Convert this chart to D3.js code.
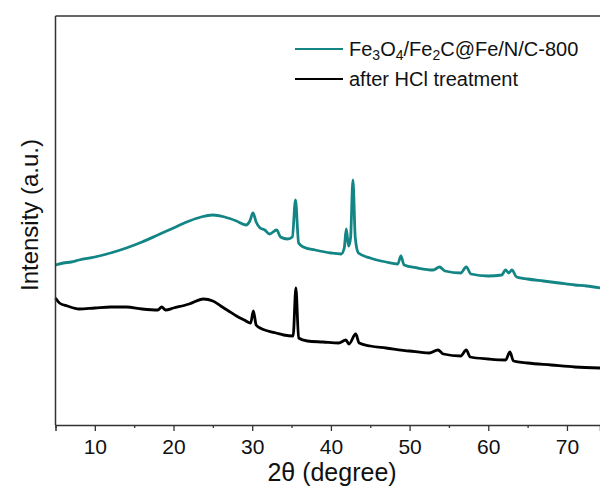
<!DOCTYPE html>
<html><head><meta charset="utf-8">
<script src="https://cdn.jsdelivr.net/npm/d3@7"></script>
<style>body{margin:0;background:#fff}svg{display:block}text{font-family:"Liberation Sans",Arial,sans-serif;fill:#111}</style>
</head><body>
<div id="chart"></div>
<script>
// 2θ (degree) positions and intensities (a.u.)
const tealTheta = [5,6,7,8,10,12,14,16,18,20,22,23.5,25,26.5,28,29.2,29.7,30.1,30.5,31,31.6,32.2,33.1,33.6,34.5,35.1,35.5,35.9,36.5,38,40,41.3,41.7,41.95,42.25,42.5,42.8,43.1,43.5,45,47,48.5,48.9,49.3,51,53,53.8,54.5,56.5,57.2,57.8,60,61.7,62.2,62.6,63.0,63.6,65,67,69,71,72.5,74.3];
const tealIntensity = [160,162,163,165,168,172,177,183,190,197,204,208,210,208,204,200,204,212,203,197,195,191,195,188,186,188,225,182,178,175,172,171,177,196,179,187,245,187,172,167,163,161,169,160,157,155,158,154,152,158,151,149,150,155,152,155,148,146,144,142,140,139,137];
const hclTheta = [5,5.5,6.5,8,10,12,14,16,18,18.5,19,20,22,23.8,25,26,27,28,29,29.8,30.15,30.5,31,32,33,34,35.2,35.55,35.9,37,39,41,41.9,42.3,43.15,43.6,45,47,50,52.5,53.6,54.3,56.5,57.2,57.7,60,62.2,62.75,63.2,65,68,71,74.3];
const hclIntensity = [127,122,119,116,117,118,118,116,115,118,115,117,121,126,124,119,114,109,105,102,114,100,97,94,92,90,89,137,87,84,83,82,85,81,91,82,79,77,74,72,75,71,69,75,68,66,65,73,64,62,60,58,57];
const seriesNames = ["Fe3O4/Fe2C@Fe/N/C-800", "after HCl treatment"];
const xTicks = [10,20,30,40,50,60,70];
const xMinorTicks = [5,15,25,35,45,55,65];

const W = 600, H = 496;
const m = {left:55.5, top:16, bottom:425};
const svg = d3.select("#chart").append("svg").attr("width",W).attr("height",H);

const x = d3.scaleLinear().domain([5, 74.2]).range([m.left, W]);
const y = d3.scaleLinear().domain([0, 409]).range([m.bottom, m.top]);

const line = d3.line().x(d=>x(d[0])).y(d=>y(d[1])).curve(d3.curveMonotoneX);
const teal = "#138585";

svg.append("path").datum(d3.zip(tealTheta, tealIntensity))
  .attr("d", line).attr("fill","none").attr("stroke",teal).attr("stroke-width",2.8).attr("stroke-linejoin","round");
svg.append("path").datum(d3.zip(hclTheta, hclIntensity))
  .attr("d", line).attr("fill","none").attr("stroke","#000").attr("stroke-width",2.8).attr("stroke-linejoin","round");

// frame
svg.append("line").attr("x1",m.left).attr("x2",W).attr("y1",m.top).attr("y2",m.top).attr("stroke","#333").attr("stroke-width",1.5);
svg.append("line").attr("x1",m.left).attr("x2",m.left).attr("y1",m.top).attr("y2",m.bottom).attr("stroke","#333").attr("stroke-width",1.5);

// x axis
const xAxis = d3.axisBottom(x).tickValues(xTicks).tickSize(6).tickPadding(8).tickFormat(d3.format("d"));
const gx = svg.append("g").attr("transform",`translate(0,${m.bottom})`).call(xAxis);
gx.select(".domain").attr("stroke","#333").attr("stroke-width",1.5);
gx.selectAll(".tick line").attr("stroke","#333").attr("stroke-width",1.3);
gx.selectAll(".tick text").attr("font-size",21).attr("font-family","Liberation Sans, Arial, sans-serif").attr("fill","#111");
const xMinor = d3.axisBottom(x).tickValues(xMinorTicks).tickSize(3).tickFormat("");
const gm = svg.append("g").attr("transform",`translate(0,${m.bottom})`).call(xMinor);
gm.select(".domain").remove();
gm.selectAll(".tick line").attr("stroke","#333").attr("stroke-width",1.3);

// titles
svg.append("text").attr("x",332).attr("y",481).attr("text-anchor","middle").attr("font-size",25).text("2θ (degree)");
svg.append("text").attr("transform","translate(38,215) rotate(-90)").attr("text-anchor","middle").attr("font-size",24).text("Intensity (a.u.)");

// legend
const lg = svg.append("g");
lg.append("line").attr("x1",295).attr("x2",343).attr("y1",49).attr("y2",49).attr("stroke",teal).attr("stroke-width",2);
lg.append("line").attr("x1",295).attr("x2",343).attr("y1",79).attr("y2",79).attr("stroke","#000").attr("stroke-width",2);
const t1 = lg.append("text").attr("x",349).attr("y",56).attr("font-size",20);
const parts = [["Fe",0],["3",1],["O",0],["4",1],["/Fe",0],["2",1],["C@Fe/N/C-800",0]];
parts.forEach(p=>{
  const ts = t1.append("tspan").text(p[0]);
  if(p[1]) ts.attr("font-size",14).attr("baseline-shift","-30%");
});
lg.append("text").attr("x",349).attr("y",86).attr("font-size",20).text(seriesNames[1]);
</script>
</body></html>
